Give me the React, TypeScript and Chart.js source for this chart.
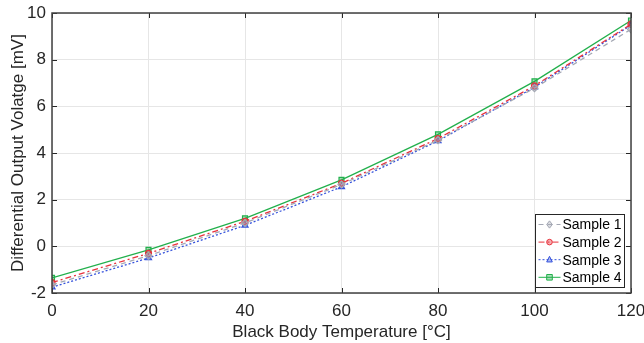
import React, { useEffect, useRef } from "react";
import { Chart, registerables } from "chart.js";

Chart.register(...registerables);

const temperatures = [0, 20, 40, 60, 80, 100, 120];
const sample1 = [-1.65, -0.4, 1.0, 2.65, 4.55, 6.78, 9.3];
const sample2 = [-1.55, -0.3, 1.07, 2.7, 4.62, 6.88, 9.52];
const sample3 = [-1.75, -0.5, 0.9, 2.55, 4.52, 6.82, 9.48];
const sample4 = [-1.35, -0.15, 1.2, 2.85, 4.8, 7.07, 9.68];
const seriesNames = ["Sample 1", "Sample 2", "Sample 3", "Sample 4"];
const xTicks = [0, 20, 40, 60, 80, 100, 120];
const yTicks = [-2, 0, 2, 4, 6, 8, 10];

const FONT = "'Liberation Sans', Arial, sans-serif";

function drawMarker(ctx: CanvasRenderingContext2D, style: string, x: number, y: number, r: number) {
  ctx.beginPath();
  if (style === "circle") {
    ctx.arc(x, y, r, 0, Math.PI * 2);
  } else if (style === "rect") {
    ctx.rect(x - r, y - r, 2 * r, 2 * r);
  } else if (style === "rectRot") {
    ctx.moveTo(x, y - r * 1.3);
    ctx.lineTo(x + r, y);
    ctx.lineTo(x, y + r * 1.3);
    ctx.lineTo(x - r, y);
    ctx.closePath();
  } else if (style === "triangle") {
    ctx.moveTo(x, y - r * 1.2);
    ctx.lineTo(x + r, y + r * 0.8);
    ctx.lineTo(x - r, y + r * 0.8);
    ctx.closePath();
  }
  ctx.fill();
  ctx.stroke();
}

const boxPlugin = {
  id: "boxPlugin",
  afterDatasetsDraw(chart: any) {
    const { ctx, chartArea, scales } = chart;
    const { left, right, top, bottom } = chartArea;
    ctx.save();
    ctx.strokeStyle = "#262626";
    ctx.lineWidth = 1;
    const tl = 5;
    ctx.beginPath();
    for (const v of xTicks) {
      const px = Math.round(scales.x.getPixelForValue(v)) + 0.5;
      ctx.moveTo(px, bottom);
      ctx.lineTo(px, bottom - tl);
      ctx.moveTo(px, top);
      ctx.lineTo(px, top + tl);
    }
    for (const v of yTicks) {
      const py = Math.round(scales.y.getPixelForValue(v)) + 0.5;
      ctx.moveTo(left, py);
      ctx.lineTo(left + tl, py);
      ctx.moveTo(right, py);
      ctx.lineTo(right - tl, py);
    }
    ctx.stroke();
    ctx.lineWidth = 1.5;
    ctx.strokeStyle = "#404040";
    ctx.strokeRect(left, top, right - left, bottom - top);

    // legend
    const lx = 535.5, ly = 214.5, lw = 89, lh = 73;
    ctx.fillStyle = "#ffffff";
    ctx.fillRect(lx, ly, lw, lh);
    ctx.lineWidth = 1;
    ctx.strokeStyle = "#262626";
    ctx.strokeRect(lx, ly, lw, lh);
    ctx.font = `14px ${FONT}`;
    ctx.textBaseline = "middle";
    chart.data.datasets.forEach((ds: any, i: number) => {
      const cy = ly + 10 + i * 17.6;
      ctx.save();
      ctx.strokeStyle = ds.borderColor;
      ctx.lineWidth = 1;
      ctx.setLineDash(ds.borderDash || []);
      ctx.beginPath();
      ctx.moveTo(lx + 3, cy);
      ctx.lineTo(lx + 25, cy);
      ctx.stroke();
      ctx.setLineDash([]);
      ctx.fillStyle = ds.pointBackgroundColor;
      ctx.strokeStyle = ds.pointBorderColor;
      drawMarker(ctx, ds.pointStyle, lx + 14, cy, 2.8);
      ctx.restore();
      ctx.fillStyle = "#000000";
      ctx.fillText(ds.label, lx + 27, cy + 1);
    });
    ctx.restore();
  },
};

export default function App() {
  const ref = useRef<HTMLCanvasElement>(null);
  useEffect(() => {
    document.body.style.margin = "0";
    const mk = (v: number[]) => temperatures.map((t, i) => ({ x: t, y: v[i] }));
    const styles = [
      { c: "#a4a8b4", dash: [5, 4], ps: "rectRot", r: 3.5 },
      { c: "#e8323c", dash: [6, 3, 2, 3], ps: "circle", r: 3 },
      { c: "#3552dc", dash: [2, 2], ps: "triangle", r: 3.5 },
      { c: "#22b04c", dash: [], ps: "rect", r: 3.5 },
    ];
    const vals = [sample1, sample2, sample3, sample4];
    const chart = new Chart(ref.current!, {
      type: "line",
      data: {
        datasets: vals.map((v, i) => ({
          label: seriesNames[i],
          data: mk(v),
          borderColor: styles[i].c,
          backgroundColor: styles[i].c + "55",
          borderDash: styles[i].dash,
          borderWidth: 1.3,
          pointStyle: styles[i].ps as any,
          pointRadius: styles[i].r,
          pointBorderColor: styles[i].c,
          pointBackgroundColor: styles[i].c + "66",
          pointBorderWidth: 1.2,
          tension: 0,
        })),
      },
      options: {
        animation: false,
        responsive: false,
        layout: { padding: { top: 13, right: 13, left: 0, bottom: 0 } },
        plugins: { legend: { display: false }, tooltip: { enabled: false } },
        scales: {
          x: {
            type: "linear",
            min: 0,
            max: 120,
            afterBuildTicks: (s: any) => {
              s.ticks = xTicks.map((v) => ({ value: v }));
            },
            afterFit: (s: any) => {
              s.height = 50;
              s.paddingLeft = 0;
              s.paddingRight = 0;
            },
            grid: { color: "#e6e6e6", drawTicks: false, lineWidth: 1 },
            border: { display: false },
            ticks: {
              color: "#262626",
              font: { family: FONT, size: 17 },
              padding: 8,
            },
            title: {
              display: true,
              text: "Black Body Temperature [°C]",
              color: "#262626",
              font: { family: FONT, size: 17 },
              padding: { top: 5, bottom: 0 },
            },
          },
          y: {
            type: "linear",
            min: -2,
            max: 10,
            afterBuildTicks: (s: any) => {
              s.ticks = yTicks.map((v) => ({ value: v }));
            },
            afterFit: (s: any) => {
              s.width = 52;
              s.paddingTop = 0;
              s.paddingBottom = 0;
            },
            grid: { color: "#e6e6e6", drawTicks: false, lineWidth: 1 },
            border: { display: false },
            ticks: {
              color: "#262626",
              font: { family: FONT, size: 17 },
              padding: 6,
            },
            title: {
              display: true,
              text: "Differential Output Volatge [mV]",
              color: "#262626",
              font: { family: FONT, size: 17 },
              padding: { top: 8, bottom: 0 },
            },
          },
        },
      },
      plugins: [boxPlugin],
    } as any);
    return () => chart.destroy();
  }, []);
  return <canvas ref={ref} width={644} height={343} style={{ display: "block" }} />;
}
